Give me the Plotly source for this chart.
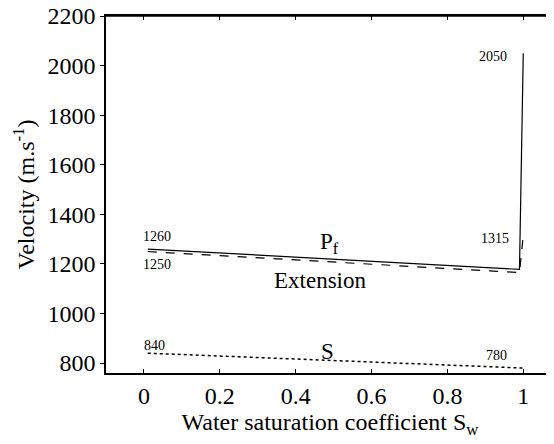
import plotly.graph_objects as go

# Data
pf_x = [0.01, 0.99, 1.0]
pf_y = [1260, 1178, 2050]
ext_x = [0.01, 0.99, 1.0]
ext_y = [1250, 1165, 1315]
s_x = [0.01, 1.0]
s_y = [840, 780]

x_ticks = [0, 0.2, 0.4, 0.6, 0.8, 1]
x_ticklabels = ["0", "0.2", "0.4", "0.6", "0.8", "1"]
y_ticks = [800, 1000, 1200, 1400, 1600, 1800, 2000, 2200]

# value labels: (x, y, text)
val_labels = [
    (0.035, 1260, "1260", "bottom"),
    (0.035, 1250, "1250", "top"),
    (0.027, 822, "840", "bottom"),
    (0.93, 780, "780", "bottom"),
    (0.92, 2035, "2050", "middle"),
    (0.925, 1303, "1315", "middle"),
]
curve_labels = [
    (0.49, 1285, "P<sub>f</sub>"),
    (0.465, 1135, "Extension"),
    (0.485, 845, "S"),
]

FONT = "Liberation Serif, Times New Roman, serif"

fig = go.Figure()
fig.add_trace(go.Scatter(x=pf_x, y=pf_y, mode="lines",
                         line=dict(color="black", width=1.2)))
fig.add_trace(go.Scatter(x=ext_x, y=ext_y, mode="lines",
                         line=dict(color="black", width=1.2, dash="dash")))
fig.add_trace(go.Scatter(x=s_x, y=s_y, mode="lines",
                         line=dict(color="black", width=1.5, dash="dot")))

for x, y, t, va in val_labels:
    fig.add_annotation(x=x, y=y, text=t, showarrow=False,
                       yanchor=va, font=dict(family=FONT, size=14, color="black"),
                       yshift=3 if va == "bottom" else (-3 if va == "top" else 0))
for x, y, t in curve_labels:
    fig.add_annotation(x=x, y=y, text=t, showarrow=False,
                       font=dict(family=FONT, size=23, color="black"))

# top frame line
fig.add_shape(type="line", xref="paper", yref="paper", x0=0, x1=1, y0=1, y1=1,
              line=dict(color="black", width=1.5), layer="above")

fig.update_layout(
    width=546, height=436,
    margin=dict(l=98, r=0, t=8, b=71),
    paper_bgcolor="white", plot_bgcolor="white",
    showlegend=False,
    font=dict(family=FONT, size=24, color="black"),
    xaxis=dict(range=[-0.1, 1.081], tickvals=x_ticks, ticktext=x_ticklabels,
               ticks="inside", ticklen=4, tickwidth=1, tickcolor="black",
               showline=True, linecolor="black", linewidth=1.5, mirror="ticks",
               showgrid=False, zeroline=False, automargin=False,
               ticklabeloverflow="allow",
               tickfont=dict(family=FONT, size=24),
               title=dict(text="Water saturation coefficient S<sub>w</sub>",
                          font=dict(family=FONT, size=24), standoff=0)),
    yaxis=dict(range=[760, 2200], tickvals=y_ticks,
               ticks="outside", ticklen=4, tickwidth=1, tickcolor="black",
               showline=True, linecolor="black", linewidth=1.5, mirror=False,
               showgrid=False, zeroline=False, automargin=False,
               ticklabeloverflow="allow",
               tickfont=dict(family=FONT, size=24),
               title=dict(text="Velocity (m.s<sup>-1</sup>)",
                          font=dict(family=FONT, size=24), standoff=6)),
)

fig.write_html("out.html")
